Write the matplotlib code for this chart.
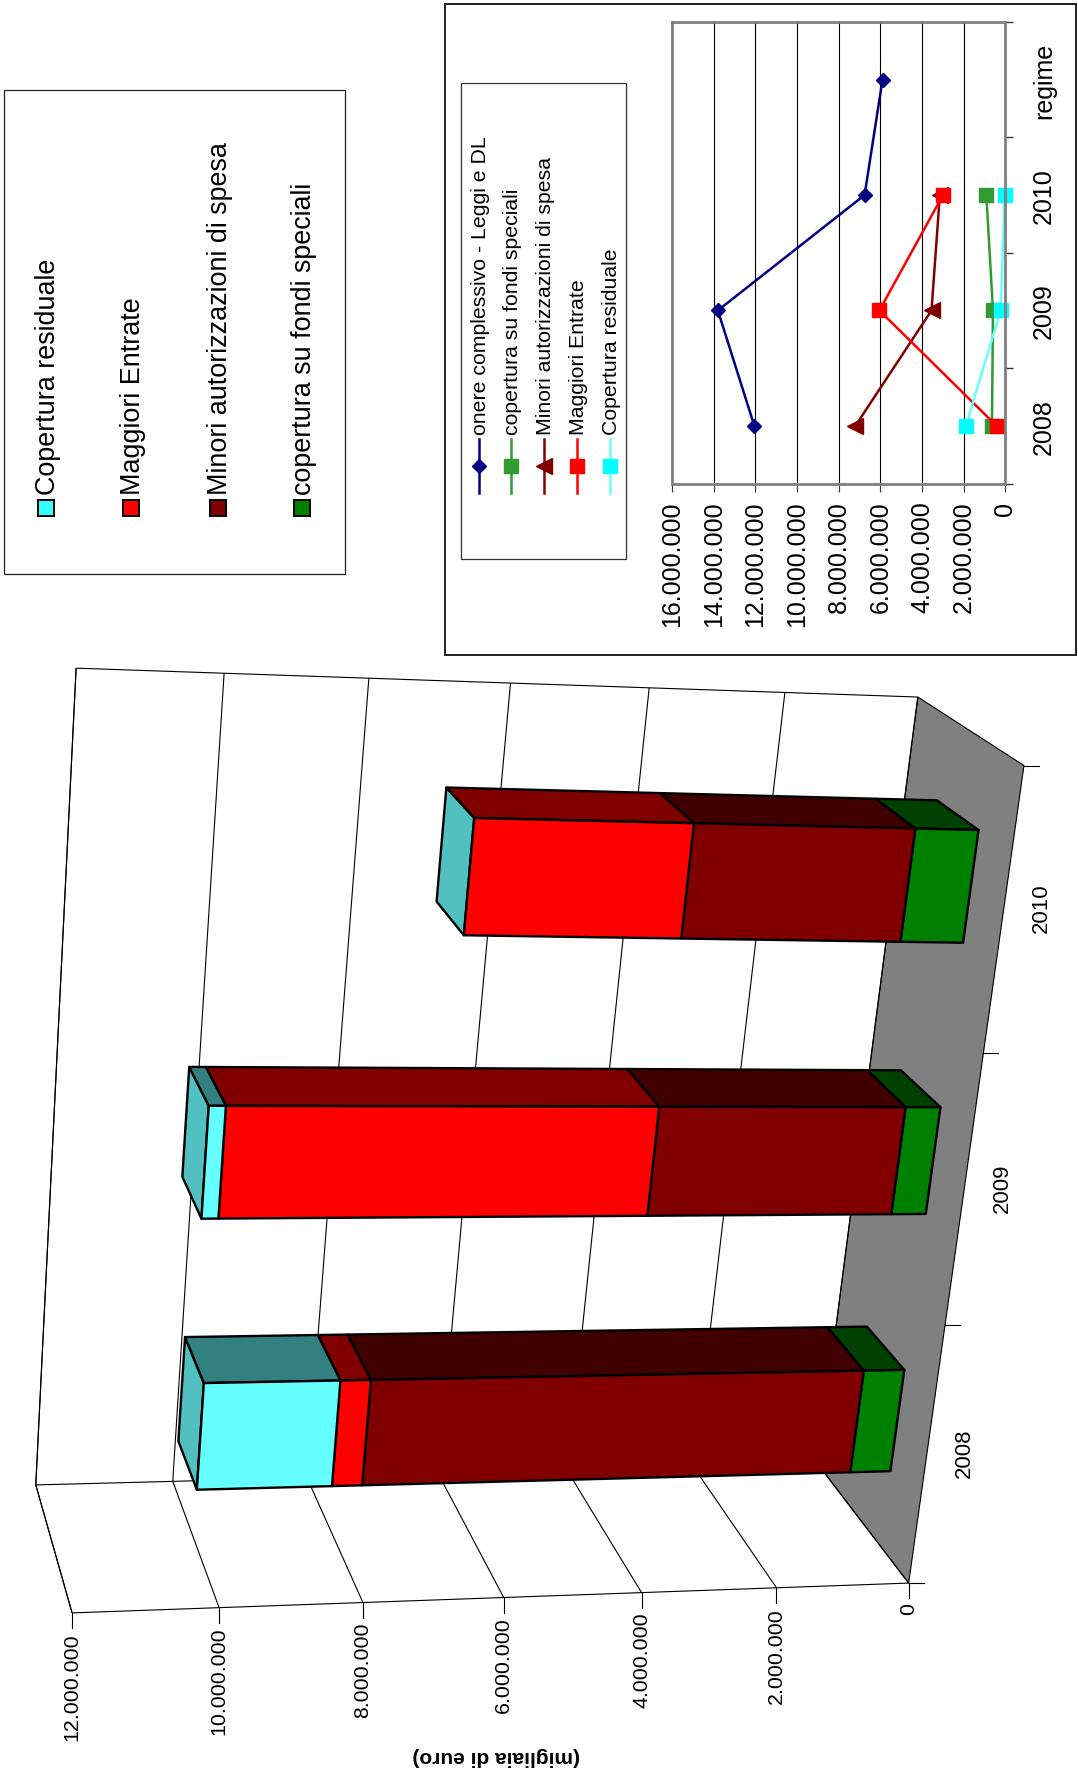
import numpy as np
import matplotlib
matplotlib.use("Agg")
import matplotlib.pyplot as plt
from matplotlib.patches import Polygon, Rectangle
from matplotlib.lines import Line2D

plt.rcParams['font.family'] = ['Liberation Sans', 'DejaVu Sans']

W, H = 1078, 1781
# ---------- data ----------
years = ['2008', '2009', '2010']
line_cats = ['2008', '2009', '2010', 'regime']
onere = [12.05, 13.8, 6.76, 5.9]
fondi = [0.62, 0.52, 0.92]
minori = [7.23, 3.6, 3.15]
maggiori = [0.43, 6.01, 3.02]
residuale = [1.9, 0.23, 0.0]
line_fondi = [0.65, 0.6, 0.92]
line_minori = [7.2, 3.55, 3.15]
line_maggiori = [0.43, 6.05, 3.0]
line_residuale = [1.9, 0.23, 0.04]
bar_ticks = [0, 2, 4, 6, 8, 10, 12]
line_ticks = [0, 2, 4, 6, 8, 10, 12, 14, 16]
stack_names = ['copertura su fondi speciali', 'Minori autorizzazioni di spesa', 'Maggiori Entrate', 'Copertura residuale']

def fmt(m):
    return '0' if m == 0 else f'{m:d}.000.000'

fig = plt.figure(figsize=(W/100, H/100), dpi=100)
ax = fig.add_axes([0, 0, 1, 1])
ax.set_xlim(0, W); ax.set_ylim(H, 0); ax.axis('off')

# ---------- perspective camera, fitted on the frame of the 3D box ----------
# (value, category, depth) -> (px, py)
anchors = [(0,0,0,909.3,1584),(2,0,0,776,1589),(4,0,0,641,1594),(6,0,0,504,1598.7),(8,0,0,363,1604),
           (10,0,0,219,1608.6),(12,0,0,72,1613),(0,1,0,945.6,1325.7),(0,2,0,983,1054),(0,3,0,1024,767),
           (0,0,1,817.6,1465),(12,0,1,36,1486),(10,0,1,173,1483),(0,3,1,918,698),(12,3,1,76,669)]
CX, CY, S = 540.0, 1100.0, 500.0
weights = np.ones(len(anchors))
Pn = None
for _ in range(15):
    A = []
    for (u, v, d, x, y), wt in zip(anchors, weights):
        x, y = (x-CX)/S, (y-CY)/S
        A.append([wt*c for c in (u, v, d, 1, 0, 0, 0, 0, -x*u, -x*v, -x*d, -x)])
        A.append([wt*c for c in (0, 0, 0, 0, u, v, d, 1, -y*u, -y*v, -y*d, -y)])
    Pn = np.linalg.svd(np.array(A, float))[2][-1].reshape(3, 4)
    den = np.array([Pn[2] @ np.array([u, v, d, 1.0]) for u, v, d, _x, _y in anchors])
    weights = 1.0/np.abs(den)

def pr(u, v, d):
    p = Pn @ np.array([u, v, d, 1.0])
    return p[0]/p[2]*S + CX, p[1]/p[2]*S + CY

def face(pts, fc, lw=1.7, ec='black'):
    ax.add_patch(Polygon([pr(*p) for p in pts], closed=True, fc=fc, ec=ec, lw=lw, joinstyle='round', zorder=1))

def seg(a, b, lw=0.8, c='black'):
    p, q = pr(*a), pr(*b)
    ax.plot([p[0], q[0]], [p[1], q[1]], color=c, lw=lw, solid_capstyle='butt', zorder=1)

# floor and walls
face([(0,0,0),(0,3,0),(0,3,1),(0,0,1)], '#808080', lw=0.8)
umax = bar_ticks[-1]
for t in bar_ticks:
    seg((t,0,1),(t,3,1))
    seg((t,0,0),(t,0,1))
    x, y = pr(t,0,0)
    ax.plot([x, x], [y, y+15], color='black', lw=0.8, zorder=1)
    ax.text(x, y+19, fmt(t), rotation=90, ha='center', va='top', fontsize=15.4)
seg((0,0,0),(umax,0,0)); seg((umax,0,1),(umax,3,1)); seg((umax,0,0),(umax,0,1))
seg((0,0,1),(umax,0,1)); seg((0,3,1),(umax,3,1))
for i in range(4):
    x, y = pr(0,i,0)
    ax.plot([x, x+15], [y, y], color='black', lw=0.8, zorder=1)
for i, yr in enumerate(years):
    x, y = pr(0, i+0.5, 0)
    ax.text(x+38, y-4, yr, rotation=90, ha='center', va='center', fontsize=16)
ax.text(496, 1757, '(migliaia di euro)', rotation=180, ha='center', va='center', fontsize=15, fontweight='bold')

# bars
front_c = ['#008000', '#800000', '#FF0000', '#66FFFF']
side_c = ['#004000', '#400000', '#800000', '#338080']
top_c = ['#004000', '#600000', '#C00000', '#52C0C0']
stack = [fondi, minori, maggiori, residuale]
v0, v1, d0, d1 = 0.3, 0.7, 0.3, 0.7
for i in range(len(years)):
    base = 0.0
    parts = []
    for k in range(4):
        if stack[k][i] > 0:
            parts.append((base, base+stack[k][i], k))
            base += stack[k][i]
    face([(base,i+v0,d0),(base,i+v1,d0),(base,i+v1,d1),(base,i+v0,d1)], top_c[3])
    for lo, hi, k in parts:
        face([(lo,i+v1,d0),(hi,i+v1,d0),(hi,i+v1,d1),(lo,i+v1,d1)], side_c[k])
    for lo, hi, k in parts:
        face([(lo,i+v0,d0),(hi,i+v0,d0),(hi,i+v1,d0),(lo,i+v1,d0)], front_c[k])

# big legend
ax.add_patch(Rectangle((4, 91), 341, 484, fc='white', ec='#222222', lw=0.9))
leg_x = [45, 130, 217, 301]
leg_fc = ['#33FFFF', '#FF0000', '#800000', '#008000']
leg_names = [stack_names[3], stack_names[2], stack_names[1], stack_names[0]]
for x, c, n in zip(leg_x, leg_fc, leg_names):
    ax.add_patch(Rectangle((x-7.5, 501), 16, 16, fc=c, ec='black', lw=1.4))
    ax.text(x+3, 495, n, rotation=90, ha='center', va='bottom', fontsize=19.4)

# line chart frame
ax.add_patch(Rectangle((445, 5), 631, 651, fc='white', ec='#222222', lw=1.4))

# line chart
L, R, T, B = 672, 1005.5, 23, 484.5
ax2 = fig.add_axes([L/W, 1-B/H, (R-L)/W, (B-T)/H])
ax2.set_xlim(16, 0); ax2.set_ylim(-0.5, 3.5)
ax2.patch.set_alpha(0)
ax2.set_xticks(line_ticks)
ax2.set_xticklabels([fmt(t) for t in line_ticks], rotation=90, fontsize=18)
ax2.set_yticks(np.arange(-0.5, 4, 1)); ax2.set_yticklabels([])
ax2.yaxis.tick_right()
ax2.tick_params(axis='x', length=5.8, width=0.8, pad=6.5, color='#333333')
ax2.tick_params(axis='y', length=5.8, width=1.0, color='#333333')
ax2.grid(axis='x', color='black', lw=0.8)
ax2.set_axisbelow(True)
for s in ax2.spines.values():
    s.set_color('#808080'); s.set_linewidth(2)
for i, c in enumerate(line_cats):
    ax2.text(1044, B - (i+0.5)*(B-T)/4, c, rotation=90, ha='center', va='center', fontsize=18,
             transform=ax.transData, clip_on=False)

series = [
    ('onere complessivo - Leggi e DL', onere, '#000080', '#000080', 'D', 7),
    ('copertura su fondi speciali', line_fondi, '#339933', '#339933', 's', 10),
    ('Minori autorizzazioni di spesa', line_minori, '#800000', '#800000', '<', 12),
    ('Maggiori Entrate', line_maggiori, '#FF0000', '#FF0000', 's', 10),
    ('Copertura residuale', line_residuale, '#66FFFF', '#00FFFF', 's', 10),
]
for n, vals, lc, mc, m, ms in series:
    ax2.plot(vals, np.arange(len(vals)), color=lc, lw=1.8, marker=m, ms=ms, mfc=mc, mec=mc, clip_on=False)

# small legend (drawn on top of the frame, beside the plot)
ax.add_patch(Rectangle((461, 84), 165, 476, fc='white', ec='#333333', lw=0.9, zorder=3))
for x, (n, vals, lc, mc, m, ms) in zip([479, 511, 544, 577, 610], series):
    ax.add_line(Line2D([x, x], [494, 440], color=lc, lw=1.8, zorder=4))
    ax.add_line(Line2D([x], [467], color=mc, marker=m, ms=ms, mfc=mc, mec=mc, zorder=4))
    ax.text(x+1.5, 435, n, rotation=90, ha='center', va='bottom', fontsize=15.3, zorder=4)

fig.savefig('out.png', dpi=100)
